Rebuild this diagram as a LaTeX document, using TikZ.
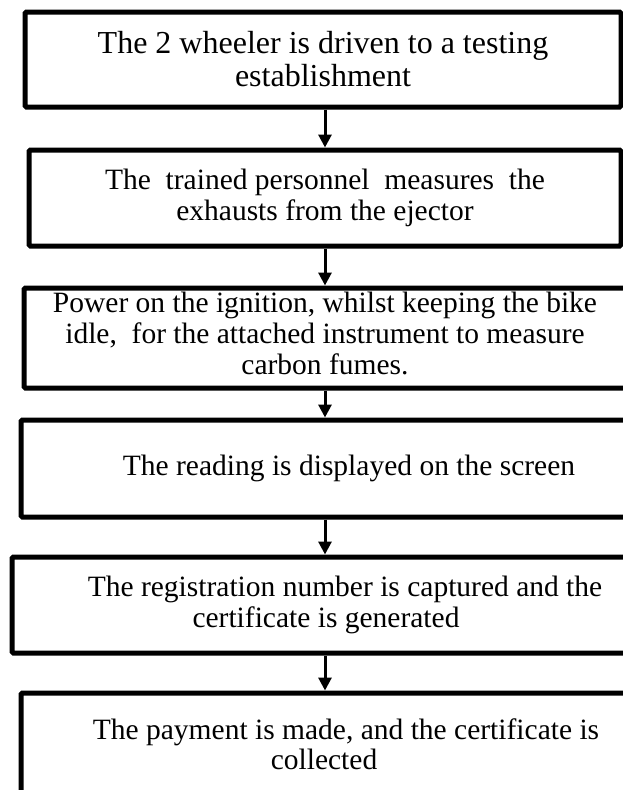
\documentclass[tikz,border=0pt]{standalone}
\usepackage{fontspec}
\setmainfont{Liberation Serif}
\usetikzlibrary{arrows.meta}
\begin{document}
\begin{tikzpicture}
	[x=1pt,y=-1pt,
	stepbox/.style={draw,line width=5pt,rounded corners=1.5pt,inner sep=0pt,
		align=center,font=\fontsize{29.5}{30.5}\selectfont},
	flow/.style={line width=3pt,-{Triangle[length=13pt,width=13pt]}}]
	\clip (0,0) rectangle (623,790);
	\fill[white] (0,0) rectangle (623,790);
	\coordinate (ax) at (325,0);
	\node[stepbox,minimum width=596pt,minimum height=95pt,
		font=\fontsize{32}{33}\selectfont] (b1) at (323,59.5)
	{The 2 wheeler is driven to a testing\\establishment};
	\node[stepbox,minimum width=592pt,minimum height=96pt] (b2) at (325,198)
	{The\ \ trained personnel\ \ measures\ \ the\\exhausts from the ejector};
	\node[stepbox,minimum width=636pt,minimum height=100pt,
		font=\fontsize{29.5}{31}\selectfont] (b3) at (342,338)
	{Power on the ignition, whilst keeping the bike\rule{34pt}{0pt}\\idle,\ \ for the attached instrument to measure\rule{34pt}{0pt}\\carbon fumes.\rule[-9pt]{34pt}{0pt}};
	\node[stepbox,minimum width=656pt,minimum height=97pt] (b4) at (349,468.5)
	{The reading is displayed on the screen};
	\node[stepbox,minimum width=666pt,minimum height=96pt] (b5) at (345,605)
	{The registration number is captured and the\\certificate is generated\rule{38pt}{0pt}};
	\node[stepbox,minimum width=650pt,minimum height=102pt] (b6) at (346,744)
	{The payment is made, and the certificate is\\collected\rule{44pt}{0pt}};
	\foreach \i/\j in {1/2,2/3,3/4,4/5,5/6}
	{
		\draw[flow] (b\i.south -| ax) -- (b\j.north -| ax);
	}
\end{tikzpicture}
\end{document}
